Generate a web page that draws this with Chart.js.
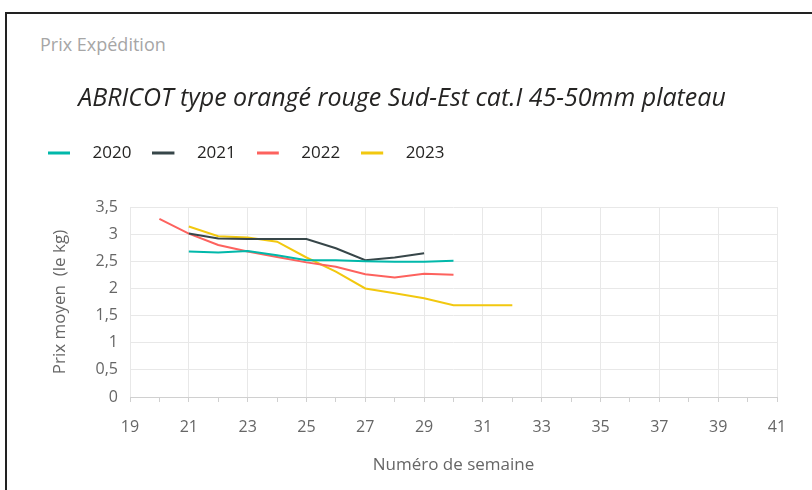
<!DOCTYPE html>
<html>
<head>
<meta charset="utf-8">
<script src="https://cdn.jsdelivr.net/npm/chart.js@4"></script>
<style>
  body { margin: 0; background: #fff; }
  #frame { position: absolute; left: 5px; top: 12px; width: 900px; height: 600px; border-left: 2px solid #222; border-top: 2px solid #222; }
  #label { position: absolute; left: 40px; top: 32px; font: 18px "Open Sans", sans-serif; color: #a6a6a6; }
  #canvas-linechart { position: absolute; left: 0; top: 0; }
</style>
</head>
<body>
<div id="frame"></div>
<div id="label">Prix Expédition</div>
<canvas id="canvas-linechart" width="812" height="490"></canvas>
<script>
// semaines + prix moyen (le kg)
const weeks2020 = [21, 22, 23, 24, 25, 26, 27, 28, 29, 30];
const prix2020 = [2.68, 2.66, 2.69, 2.61, 2.52, 2.52, 2.50, 2.49, 2.49, 2.51];
const weeks2021 = [21, 22, 23, 24, 25, 26, 27, 28, 29];
const prix2021 = [3.01, 2.92, 2.91, 2.91, 2.91, 2.74, 2.52, 2.57, 2.65];
const weeks2022 = [20, 21, 22, 23, 24, 25, 26, 27, 28, 29, 30];
const prix2022 = [3.28, 3.01, 2.80, 2.68, 2.58, 2.48, 2.40, 2.26, 2.20, 2.27, 2.25];
const weeks2023 = [21, 22, 23, 24, 25, 26, 27, 28, 29, 30, 31, 32];
const prix2023 = [3.14, 2.96, 2.94, 2.86, 2.57, 2.31, 2.00, 1.91, 1.82, 1.69, 1.69, 1.69];
const years = ['2020', '2021', '2022', '2023'];
const xMin = 19, xMax = 41;
const yTicks = [0, 0.5, 1, 1.5, 2, 2.5, 3, 3.5];

const colors = ['#01B8AA', '#374649', '#FD625E', '#F2C80F'];
const allWeeks = [weeks2020, weeks2021, weeks2022, weeks2023];
const allPrix = [prix2020, prix2021, prix2022, prix2023];

const font = '"Open Sans", sans-serif';
const canvas = document.getElementById('canvas-linechart');
var ctx = canvas.getContext('2d');

// petit trait de légende, suivi d'un blanc avant le texte
function legendLine(color) {
    const c = document.createElement('canvas');
    c.width = 36;
    c.height = 4;
    const g = c.getContext('2d');
    g.fillStyle = color;
    g.fillRect(0, 0.5, 22, 3);
    return c;
}
const legendImgs = colors.map(legendLine);

const legendGap = {
    id: 'legendGap',
    beforeInit(chart) {
        const fit = chart.legend.fit;
        chart.legend.fit = function () {
            fit.bind(chart.legend)();
            this.height += 35.5;
        };
    }
};

new Chart(ctx, {
    type: 'line',
    data: {
        datasets: years.map((y, i) => ({
            label: y,
            data: allWeeks[i].map((w, j) => ({ x: w, y: allPrix[i][j] })),
            borderColor: colors[i],
            backgroundColor: colors[i],
            borderWidth: 2,
            pointRadius: 0,
            tension: 0
        }))
    },
    options: {
        responsive: false,
        animation: false,
        layout: { padding: { left: 27, right: 35, top: 86, bottom: 14.8 } },
        plugins: {
            title: {
                display: true,
                text: 'ABRICOT type orangé rouge Sud-Est cat.I 45-50mm plateau',
                color: '#252423',
                font: { family: font, size: 25, style: 'italic', weight: 'normal', lineHeight: 1.0 },
                padding: { top: 0, bottom: 12.5 }
            },
            legend: {
                position: 'top',
                align: 'start',
                labels: {
                    usePointStyle: true,
                    pointStyleWidth: 36,
                    padding: 21,
                    color: '#252423',
                    font: { family: font, size: 17 },
                    generateLabels(chart) {
                        const items = Chart.defaults.plugins.legend.labels.generateLabels(chart);
                        items.forEach((it, i) => { it.pointStyle = legendImgs[i]; });
                        return items;
                    }
                }
            },
            tooltip: { enabled: false }
        },
        scales: {
            x: {
                type: 'linear',
                min: xMin,
                max: xMax,
                ticks: {
                    stepSize: 1,
                    autoSkip: false,
                    maxRotation: 0,
                    padding: 15.5,
                    color: '#666',
                    font: { family: font, size: 16 },
                    callback: v => (v % 2 ? String(v) : '')
                },
                grid: {
                    color: c => (c.tick && c.tick.value % 2 ? '#e8e8e8' : 'rgba(0,0,0,0)'),
                    tickColor: '#d0d0d0',
                    tickLength: 5
                },
                border: { color: '#d0d0d0' },
                title: {
                    display: true,
                    text: 'Numéro de semaine',
                    color: '#666',
                    font: { family: font, size: 17 },
                    padding: { top: 2.6, bottom: 0 }
                }
            },
            y: {
                min: 0,
                max: 3.5,
                afterFit(scale) { scale.width = 103; },
                afterBuildTicks(scale) { scale.ticks = yTicks.map(v => ({ value: v })); },
                ticks: {
                    padding: 12,
                    color: '#666',
                    font: { family: font, size: 16 },
                    callback: v => String(v).replace('.', ',')
                },
                grid: { color: '#e8e8e8', drawTicks: false },
                border: { display: false },
                title: {
                    display: true,
                    text: 'Prix moyen  (le kg)',
                    color: '#666',
                    font: { family: font, size: 17 },
                    padding: { top: 22.8, bottom: 0 }
                }
            }
        }
    },
    plugins: [legendGap]
});
</script>
</body>
</html>
